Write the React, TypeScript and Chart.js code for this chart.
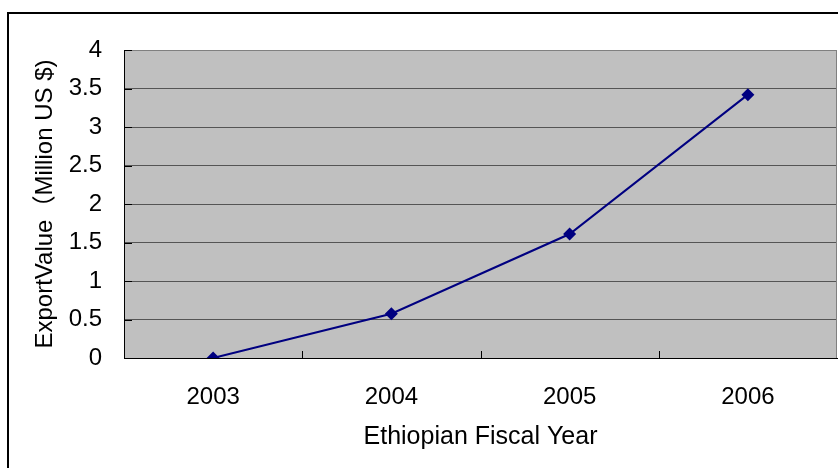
import React, { useEffect, useRef } from "react";
import { Chart, registerables } from "chart.js";

Chart.register(...registerables);

const years = ["2003", "2004", "2005", "2006"];
const exportValues = [0, 0.575, 1.61, 3.42];
const yTickValues = [0, 0.5, 1, 1.5, 2, 2.5, 3, 3.5, 4];

const FONT = "'Liberation Sans', Arial, 'Noto Sans CJK JP', sans-serif";

// Gray plot background, gray top/right frame and short inward tick marks
const plotFrame = {
  id: "plotFrame",
  beforeDraw(chart: any) {
    const { ctx, chartArea } = chart;
    const { left, top, right, bottom } = chartArea;
    ctx.save();
    ctx.fillStyle = "#C0C0C0";
    ctx.fillRect(left, top, right - left, bottom - top);
    ctx.restore();
  },
  beforeDatasetsDraw(chart: any) {
    const { ctx, chartArea, scales } = chart;
    const { left, top, right, bottom } = chartArea;
    ctx.save();
    ctx.lineWidth = 1;
    ctx.strokeStyle = "#808080";
    ctx.beginPath();
    ctx.moveTo(left, top + 0.5);
    ctx.lineTo(right - 0.5, top + 0.5);
    ctx.lineTo(right - 0.5, bottom);
    ctx.stroke();

    ctx.strokeStyle = "#000000";
    ctx.beginPath();
    // y ticks, pointing into the plot
    for (const v of yTickValues) {
      const y = Math.round(scales.y.getPixelForValue(v)) + 0.5;
      ctx.moveTo(left, y);
      ctx.lineTo(left + 8, y);
    }
    // x ticks between categories, pointing up
    const n = years.length;
    for (let i = 1; i < n; i++) {
      const x = Math.round(left + (i * (right - left)) / n) + 0.5;
      ctx.moveTo(x, bottom);
      ctx.lineTo(x, bottom - 7);
    }
    ctx.stroke();
    ctx.restore();
  },
};

export default function App() {
  const canvasRef = useRef<HTMLCanvasElement | null>(null);

  useEffect(() => {
    const canvas = canvasRef.current;
    if (!canvas) return;
    const chart = new Chart(canvas, {
      type: "line",
      data: {
        labels: years,
        datasets: [
          {
            data: exportValues,
            borderColor: "#000080",
            backgroundColor: "#000080",
            borderWidth: 2,
            pointStyle: "rectRot",
            pointRadius: 6.5,
            pointBorderWidth: 0,
            tension: 0,
          },
        ],
      },
      options: {
        animation: false,
        responsive: false,
        maintainAspectRatio: false,
        layout: { autoPadding: false, padding: { left: 0, right: 1, top: 50, bottom: 0 } },
        plugins: {
          legend: { display: false },
          tooltip: { enabled: false },
        },
        scales: {
          x: {
            type: "category",
            offset: true,
            grid: { display: false, drawTicks: false },
            border: { display: true, color: "#000000", width: 1 },
            ticks: {
              color: "#000000",
              font: { family: FONT, size: 24 },
              padding: 25,
              maxRotation: 0,
            },
            title: {
              display: true,
              text: "Ethiopian Fiscal Year",
              color: "#000000",
              font: { family: FONT, size: 25 },
              padding: { top: 0, bottom: 16 },
            },
            afterFit(scale: any) {
              scale.height = 110;
              scale.paddingLeft = 0;
              scale.paddingRight = 0;
            },
          },
          y: {
            min: 0,
            max: 4,
            grid: {
              drawTicks: false,
              color: (c: any) => (c.tick && c.tick.value === 4 ? "#808080" : "#555555"),
              lineWidth: 1,
            },
            border: { display: true, color: "#000000", width: 1 },
            ticks: {
              stepSize: 0.5,
              color: "#000000",
              font: { family: FONT, size: 24 },
              padding: 22,
              callback: (v: any) => String(v),
            },
            title: {
              display: true,
              text: "ExportValue（Million US $)",
              color: "#000000",
              font: { family: FONT, size: 24 },
              padding: { top: 31, bottom: 0 },
            },
            afterFit(scale: any) {
              scale.width = 124;
              scale.paddingTop = 0;
              scale.paddingBottom = 0;
            },
          },
        },
      },
      plugins: [plotFrame],
    });
    return () => chart.destroy();
  }, []);

  return (
    <div
      style={{
        position: "absolute",
        left: 0,
        top: 0,
        width: 838,
        height: 468,
        overflow: "hidden",
        background: "#ffffff",
      }}
    >
      <div
        style={{
          position: "absolute",
          left: 7,
          top: 12,
          width: 900,
          height: 500,
          borderLeft: "2px solid #000000",
          borderTop: "2px solid #000000",
          boxSizing: "border-box",
        }}
      />
      <canvas
        ref={canvasRef}
        width={838}
        height={468}
        style={{ position: "absolute", left: 0, top: 0, width: 838, height: 468 }}
      />
    </div>
  );
}
